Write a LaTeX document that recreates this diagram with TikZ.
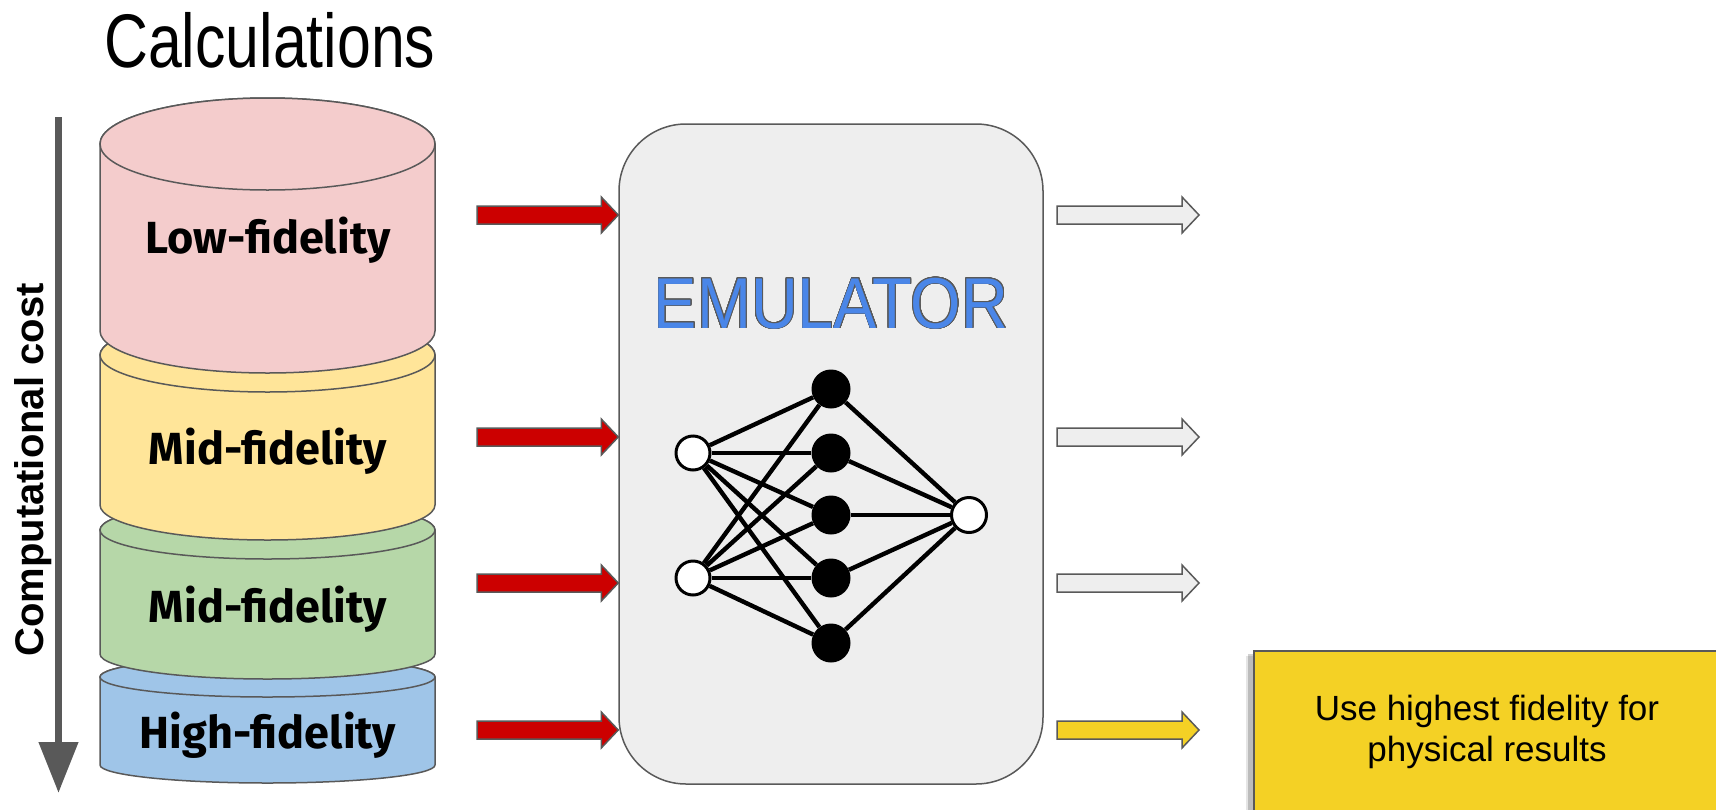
\documentclass[tikz,border=0pt]{standalone}
\usepackage{fontspec}
\usepackage{contour}
\setmainfont{Liberation Sans}
\newfontfamily\titlefont[FakeStretch=0.8]{Liberation Sans}
\newfontfamily\emufont[FakeStretch=0.9]{Liberation Sans}
\newfontfamily\labfont{Fira Sans}
\usetikzlibrary{arrows.meta,calc}
\definecolor{cpink}{HTML}{F4CCCC}
\definecolor{cyellow}{HTML}{FFE599}
\definecolor{cgreen}{HTML}{B6D7A8}
\definecolor{cblue}{HTML}{9FC5E8}
\definecolor{emufill}{HTML}{EEEEEE}
\definecolor{edgegray}{HTML}{595959}
\definecolor{arrred}{HTML}{CC0000}
\definecolor{resyellow}{HTML}{F4D125}
\definecolor{emublue}{HTML}{4A86E8}
\contourlength{0.9pt}
\contournumber{24}
% cylinder: fill, cx, rx, ytop, rtop, ybottom, rbottom
\newcommand{\cyl}[7]{%
  \draw[cylline, fill=#1] (#2-#3,#4) -- (#2-#3,#6)
    arc[start angle=180, end angle=0, x radius=#3, y radius=#7]
    -- (#2+#3,#4)
    arc[start angle=360, end angle=180, x radius=#3, y radius=#5] -- cycle;
  \draw[cylline, fill=#1] (#2,#4) ellipse[x radius=#3, y radius=#5];}
% block arrow: fill, start, tip
\newcommand{\blockarrow}[3]{%
  \draw[blockline, fill=#1] ($(#2)+(0,-9)$) -- ($(#3)+(-17,-9)$) -- ($(#3)+(-17,-18)$)
    -- (#3) -- ($(#3)+(-17,18)$) -- ($(#3)+(-17,9)$) -- ($(#2)+(0,9)$) -- cycle;}
\begin{document}
\begin{tikzpicture}[x=1pt, y=-1pt,
  cylline/.style={draw=edgegray, line width=1.5pt},
  blockline/.style={draw=edgegray, line width=1.5pt, line join=miter},
  lab/.style={font=\labfont\bfseries\fontsize{45}{45}\selectfont, inner sep=0, anchor=base},
  inn/.style={circle, draw=black, line width=3pt, fill=white, minimum size=34pt, inner sep=0},
  hid/.style={circle, fill=black, minimum size=39pt, inner sep=0},
  nnedge/.style={line width=4.4pt}]
\useasboundingbox (0,0) rectangle (1716,809);
\clip (0,0) rectangle (1716,809);

% title
\node[anchor=base west, inner sep=0, font=\titlefont\fontsize{76}{76}\selectfont] (title) at (104,67) {Calculations};

% cost arrow
\coordinate (costtop) at (58.5,117);
\coordinate (costbot) at (58.5,793);
\draw[line width=7.5pt, edgegray, -{Triangle[width=38pt,length=51pt]}] (costtop) -- (costbot);
\node[rotate=90, anchor=base, inner sep=0, font=\bfseries\fontsize{40}{40}\selectfont] (costlabel) at (43,470) {Computational cost};

% cylinders (bottom first)
\cyl{cblue}{267.5}{167.5}{677}{20}{765}{18}
\cyl{cgreen}{267.5}{167.5}{530}{29}{654}{25}
\cyl{cyellow}{267.5}{167.5}{355}{37}{505}{35}
\cyl{cpink}{267.5}{167.5}{144}{46}{331}{42}

\node[lab] (lowlab) at (268,253) {Low-fidelity};
\node[lab] (mid1lab) at (268,464) {Mid-fidelity};
\node[lab] (mid2lab) at (268,622) {Mid-fidelity};
\node[lab] (highlab) at (268,748) {High-fidelity};

% emulator
\node[draw=edgegray, line width=1.5pt, fill=emufill, rounded corners=67pt,
      minimum width=424pt, minimum height=660pt, inner sep=0] (emu) at (831,454) {};
\node[anchor=base, inner sep=0, text=emublue, font=\emufont\fontsize{72}{72}\selectfont] (emutext) at (831,328) {\contour{edgegray}{EMULATOR}};

% network
\node[inn] (in1) at (693,453) {};
\node[inn] (in2) at (693,578) {};
\node[hid] (h1) at (831,389) {};
\node[hid] (h2) at (831,453) {};
\node[hid] (h3) at (831,515) {};
\node[hid] (h4) at (831,578) {};
\node[hid] (h5) at (831,643) {};
\node[inn, minimum size=35pt] (out) at (969,515) {};
\foreach \i in {in1,in2}{\foreach \h in {h1,h2,h3,h4,h5}{\draw[nnedge] (\i) -- (\h);}}
\foreach \h in {h1,h2,h3,h4,h5}{\draw[nnedge] (\h) -- (out);}

% input arrows
\coordinate (r1) at (477,215);
\coordinate (r2) at (477,437);
\coordinate (r3) at (477,583);
\coordinate (r4) at (477,730);
\blockarrow{arrred}{r1}{emu.west |- r1}
\blockarrow{arrred}{r2}{emu.west |- r2}
\blockarrow{arrred}{r3}{emu.west |- r3}
\blockarrow{arrred}{r4}{emu.west |- r4}

% output arrows
\coordinate (o1s) at (1057,215); \coordinate (o1e) at (1199,215);
\coordinate (o2s) at (1057,437); \coordinate (o2e) at (1199,437);
\coordinate (o3s) at (1057,583); \coordinate (o3e) at (1199,583);
\coordinate (o4s) at (1057,730); \coordinate (o4e) at (1199,730);
\blockarrow{emufill}{o1s}{o1e}
\blockarrow{emufill}{o2s}{o2e}
\blockarrow{emufill}{o3s}{o3e}
\blockarrow{resyellow}{o4s}{o4e}

% result box
\fill[black, opacity=0.18] (1248,654) rectangle (1260,820);
\fill[black, opacity=0.10] (1246,656) rectangle (1260,820);
\node[draw=edgegray, line width=2pt, fill=resyellow, anchor=north west,
      minimum width=520pt, minimum height=220pt, inner sep=0] (result) at (1253,650) {};
\node[align=center, inner sep=0, font=\fontsize{35}{41}\selectfont] (restext) at (1487,732) {Use highest fidelity for\\physical results};
\end{tikzpicture}
\end{document}
